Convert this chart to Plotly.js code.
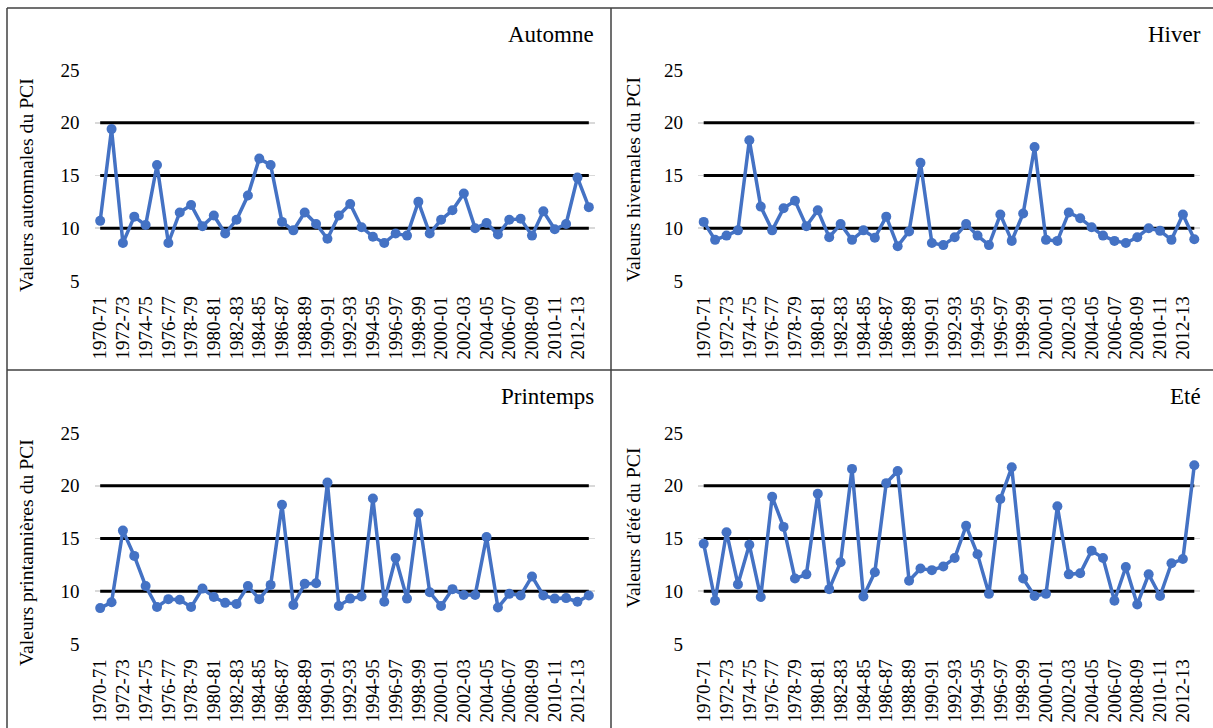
<!DOCTYPE html>
<html>
<head>
<meta charset="utf-8">
<script src="https://cdn.plot.ly/plotly-3.0.0.min.js"></script>
<style>html,body{margin:0;padding:0;background:#fff;}#chart{width:1213px;height:728px;}</style>
</head>
<body>
<div id="chart"></div>
<script>
const categories = ['1970-71','1971-72','1972-73','1973-74','1974-75','1975-76','1976-77','1977-78','1978-79','1979-80',
  '1980-81','1981-82','1982-83','1983-84','1984-85','1985-86','1986-87','1987-88','1988-89','1989-90',
  '1990-91','1991-92','1992-93','1993-94','1994-95','1995-96','1996-97','1997-98','1998-99','1999-00',
  '2000-01','2001-02','2002-03','2003-04','2004-05','2005-06','2006-07','2007-08','2008-09','2009-10',
  '2010-11','2011-12','2012-13','2013-14'];
const tickLabels = ['1970-71','1972-73','1974-75','1976-77','1978-79','1980-81','1982-83','1984-85','1986-87','1988-89',
  '1990-91','1992-93','1994-95','1996-97','1998-99','2000-01','2002-03','2004-05','2006-07','2008-09','2010-11','2012-13'];
const yTicks = [5,10,15,20,25];
const thresholds = [10,15,20];

const automne = [10.7,19.4,8.6,11.1,10.3,16.0,8.6,11.5,12.2,10.2,
  11.2,9.5,10.8,13.1,16.6,16.0,10.6,9.8,11.5,10.4,
  9.0,11.2,12.3,10.1,9.2,8.6,9.5,9.3,12.5,9.5,
  10.8,11.7,13.3,10.0,10.5,9.4,10.8,10.9,9.3,11.6,
  9.9,10.4,14.8,12.0];
const hiver = [10.6,8.9,9.3,9.8,18.35,12.05,9.8,11.9,12.6,10.2,
  11.7,9.15,10.4,8.9,9.8,9.1,11.1,8.3,9.7,16.2,
  8.6,8.4,9.15,10.4,9.3,8.4,11.3,8.8,11.4,17.7,
  8.9,8.8,11.5,10.95,10.1,9.3,8.8,8.6,9.15,10.0,
  9.75,8.9,11.3,8.95];
const printemps = [8.4,8.95,15.75,13.35,10.5,8.5,9.25,9.2,8.5,10.25,
  9.45,8.9,8.8,10.5,9.25,10.6,18.2,8.7,10.7,10.75,
  20.3,8.6,9.3,9.5,18.8,9.0,13.15,9.3,17.4,9.9,
  8.6,10.2,9.65,9.65,15.15,8.45,9.75,9.6,11.4,9.6,
  9.3,9.35,9.0,9.6];
const ete = [14.5,9.1,15.6,10.65,14.4,9.45,18.95,16.1,11.2,11.6,
  19.25,10.2,12.75,21.6,9.5,11.8,20.25,21.4,11.0,12.15,
  12.0,12.35,13.15,16.2,13.5,9.75,18.75,21.75,11.2,9.55,
  9.75,18.05,11.6,11.7,13.85,13.15,9.1,12.3,8.75,11.6,
  9.55,12.65,13.05,21.95];

const panelTitles = ['Automne','Hiver','Printemps','Eté'];
const yTitles = ['Valeurs automnales du PCI','Valeurs hivernales du PCI','Valeurs printannières du PCI',"Valeurs d'été du PCI"];
const series = [automne, hiver, printemps, ete];

// ---- layout geometry (pixels) ----
const W = 1213, H = 728;
const px = x => x / W;
const py = y => 1 - y / H;
const FONT = '"Liberation Serif", "Times New Roman", Times, serif';
const xDom = [[94.5, 594.5],[698, 1200],[94.5, 594.5],[698, 1200]];
const yDom = [[69.5, 281.5],[69.5, 281.5],[432.5, 644.5],[432.5, 644.5]];
const titlePos = [[596, 34],[1203, 34],[596, 397],[1203, 397]];
const yTitlePos = [[26, 185],[633, 180],[26, 553],[633, 528]];

const traces = [];
const layout = {
  width: W, height: H,
  margin: {l:0, r:0, t:0, b:0},
  paper_bgcolor: '#fff', plot_bgcolor: 'rgba(0,0,0,0)',
  showlegend: false,
  font: {family: FONT, color: '#000', size: 19},
  annotations: [], shapes: []
};

series.forEach((vals, i) => {
  const n = i === 0 ? '' : String(i + 1);
  const xa = 'x' + n, ya = 'y' + n;
  thresholds.forEach(t => {
    traces.push({
      x: categories, y: categories.map(() => t), xaxis: xa, yaxis: ya,
      type: 'scatter', mode: 'lines', line: {color: '#000', width: 3},
      hoverinfo: 'skip'
    });
  });
  traces.push({
    x: categories, y: vals, xaxis: xa, yaxis: ya,
    type: 'scatter', mode: 'lines+markers',
    line: {color: '#4472c4', width: 3.5},
    marker: {color: '#4472c4', size: 10}
  });
  layout['xaxis' + n] = {
    domain: [px(xDom[i][0]), px(xDom[i][1])], anchor: ya,
    type: 'category', range: [-0.5, 43.5], fixedrange: true,
    tickmode: 'array', tickvals: tickLabels, ticktext: tickLabels,
    tickangle: -90, ticks: '', showgrid: false, zeroline: false, showline: false,
    tickfont: {family: FONT, size: 19, color: '#000'}, ticklabelstandoff: 10
  };
  layout['yaxis' + n] = {
    domain: [py(yDom[i][1]), py(yDom[i][0])], anchor: xa,
    range: [4.95, 25.05], fixedrange: true,
    tickmode: 'array', tickvals: yTicks, ticks: '',
    showgrid: true, gridcolor: '#d9d9d9', gridwidth: 1.5,
    zeroline: false, showline: false,
    tickfont: {family: FONT, size: 19, color: '#000'}, ticklabelstandoff: 14
  };
  layout.annotations.push({
    xref: 'paper', yref: 'paper', x: px(titlePos[i][0]), y: py(titlePos[i][1]),
    xanchor: 'right', yanchor: 'middle', showarrow: false,
    text: panelTitles[i], font: {family: FONT, size: 23, color: '#000'}
  });
  layout.annotations.push({
    xref: 'paper', yref: 'paper', x: px(yTitlePos[i][0]), y: py(yTitlePos[i][1]),
    xanchor: 'center', yanchor: 'middle', showarrow: false, textangle: -90,
    text: yTitles[i], font: {family: FONT, size: 19.7, color: '#000'}
  });
});

// frame of the 2x2 table
const frameColor = '#404040';
[
  [7, 8, 1213, 8],
  [7, 8, 7, 728],
  [611, 8, 611, 728],
  [7, 370, 1213, 370]
].forEach(s => {
  layout.shapes.push({
    type: 'line', xref: 'paper', yref: 'paper',
    x0: px(s[0]), y0: py(s[1]), x1: px(s[2]), y1: py(s[3]),
    line: {color: frameColor, width: 1.5}
  });
});

Plotly.newPlot('chart', traces, layout, {displayModeBar: false, staticPlot: true});
</script>
</body>
</html>
